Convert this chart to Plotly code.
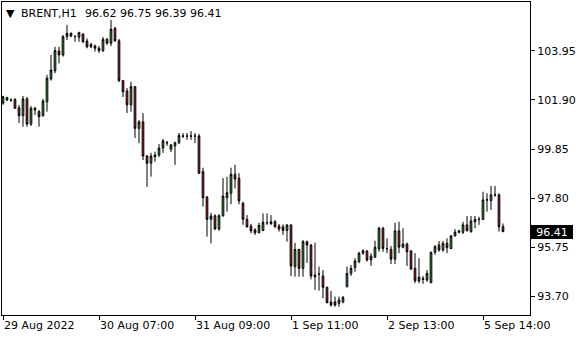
import plotly.graph_objects as go

symbol = "BRENT,H1"

opens = [101.76, 101.89, 101.89, 101.92, 101.57, 101.24, 101.94, 100.89, 101.55, 101.41,
         101.24, 101.82, 102.77, 103.11, 103.94, 103.77, 104.53, 104.67, 104.54, 104.51,
         104.64, 104.35, 104.11, 104.14, 104.05, 103.95, 104.42, 104.26, 104.88, 104.36,
         102.70, 102.27, 101.69, 102.45, 100.71, 100.98, 99.56, 99.26, 99.53, 99.60,
         99.89, 100.11, 99.84, 99.98, 100.11, 100.39, 100.39, 100.39, 100.39, 100.39,
         98.91, 97.85, 96.92, 97.07, 96.52, 97.07, 97.82, 98.01, 98.80, 98.63,
         97.59, 96.92, 96.64, 96.48, 96.36, 96.45, 96.78, 96.74, 96.82, 96.64,
         96.61, 96.46, 96.69, 94.95, 95.67, 94.88, 95.99, 95.85, 94.60, 94.64,
         94.56, 94.09, 93.48, 93.48, 93.42, 93.48, 94.11, 94.67, 94.91, 95.16,
         95.51, 95.60, 95.23, 95.34, 95.69, 96.55, 95.70, 95.67, 95.26, 96.44,
         95.76, 95.89, 95.60, 94.88, 94.35, 94.46, 94.39, 94.28, 95.55, 95.85,
         95.64, 95.92, 95.70, 96.23, 96.38, 96.38, 96.69, 96.41, 96.82, 96.92,
         96.92, 97.73, 97.70, 97.94, 97.94, 96.62]
highs = [102.07, 102.03, 101.96, 101.96, 101.69, 102.06, 102.02, 101.64, 101.61, 101.48,
         101.94, 102.94, 103.77, 104.11, 104.11, 104.60, 105.02, 104.71, 104.60, 104.74,
         104.67, 104.46, 104.28, 104.21, 104.14, 104.52, 104.48, 105.23, 104.94, 104.44,
         102.73, 102.39, 102.66, 102.48, 101.06, 101.35, 99.60, 99.69, 99.74, 100.06,
         100.27, 100.19, 100.06, 100.16, 100.52, 100.52, 100.52, 100.60, 100.52, 100.48,
         99.07, 97.89, 97.19, 97.13, 97.14, 98.64, 98.69, 99.07, 99.19, 98.84,
         97.66, 97.10, 96.73, 96.55, 96.78, 97.17, 97.17, 97.10, 96.89, 96.73,
         96.71, 96.71, 96.71, 95.94, 95.69, 96.06, 96.03, 95.89, 95.95, 94.95,
         94.81, 94.11, 93.94, 93.70, 93.70, 93.73, 94.95, 95.02, 95.30, 95.57,
         95.67, 95.64, 95.51, 96.03, 96.61, 96.61, 96.13, 95.81, 96.78, 96.82,
         96.55, 95.95, 95.64, 95.51, 95.30, 94.56, 94.81, 95.57, 95.85, 96.02,
         96.02, 96.13, 96.27, 96.51, 96.48, 96.82, 97.06, 97.06, 97.06, 97.03,
         98.07, 98.01, 98.31, 98.31, 98.01, 96.75]
lows = [101.69, 101.85, 101.82, 101.52, 100.94, 100.78, 100.78, 100.81, 101.27, 100.78,
        101.20, 101.41, 102.70, 103.01, 103.42, 103.70, 104.39, 104.51, 104.32, 104.32,
        104.26, 104.05, 104.05, 103.91, 103.85, 103.89, 104.19, 104.14, 104.31, 102.64,
        102.02, 101.35, 101.41, 100.31, 100.10, 99.39, 98.27, 98.70, 99.32, 99.52,
        99.69, 99.98, 99.73, 99.19, 100.06, 100.31, 100.23, 100.23, 100.10, 98.81,
        97.45, 96.20, 95.92, 96.48, 96.44, 97.03, 97.24, 97.55, 98.21, 97.55,
        96.69, 96.58, 96.34, 96.27, 96.34, 96.44, 96.69, 96.69, 96.57, 96.41,
        96.27, 95.99, 94.56, 94.53, 94.53, 94.53, 95.11, 94.42, 93.98, 93.95,
        93.63, 93.42, 93.28, 93.28, 93.28, 93.42, 94.09, 94.56, 94.74, 95.09,
        95.44, 95.16, 94.98, 95.32, 95.57, 95.57, 95.51, 95.06, 95.06, 95.51,
        95.71, 94.98, 94.81, 94.26, 94.26, 94.23, 94.32, 94.26, 95.44, 95.57,
        95.57, 95.51, 95.69, 96.20, 96.34, 96.31, 96.41, 96.36, 96.55, 96.69,
        96.89, 97.24, 97.31, 97.86, 96.41, 96.39]
closes = [102.03, 101.99, 101.89, 101.55, 101.24, 101.94, 100.89, 101.55, 101.48, 101.20,
          101.85, 102.80, 103.14, 103.95, 103.77, 104.53, 104.67, 104.56, 104.54, 104.70,
          104.32, 104.11, 104.21, 104.05, 103.95, 104.42, 104.26, 104.84, 104.36, 102.70,
          102.24, 101.69, 102.45, 100.71, 100.98, 99.56, 99.26, 99.56, 99.60, 99.89,
          100.19, 100.11, 100.02, 100.11, 100.42, 100.39, 100.39, 100.39, 100.39, 98.84,
          97.82, 96.92, 97.06, 96.52, 97.07, 97.89, 98.03, 98.80, 98.60, 97.69,
          96.92, 96.61, 96.44, 96.36, 96.67, 96.80, 96.78, 96.82, 96.61, 96.52,
          96.46, 96.69, 94.98, 95.67, 94.88, 95.99, 95.85, 94.56, 94.53, 94.64,
          94.09, 93.45, 93.35, 93.35, 93.56, 93.66, 94.67, 94.88, 95.19, 95.51,
          95.61, 95.23, 95.39, 95.76, 96.55, 95.71, 95.70, 95.26, 96.44, 95.76,
          95.89, 95.57, 94.85, 94.36, 94.51, 94.42, 94.67, 95.55, 95.78, 95.64,
          95.92, 95.74, 96.23, 96.39, 96.44, 96.69, 96.45, 96.85, 96.92, 96.92,
          97.73, 97.73, 97.94, 97.94, 96.61, 96.41]

tick_bars = [0, 24, 48, 72, 96, 120]
tick_labels = ["29 Aug 2022", "30 Aug 07:00", "31 Aug 09:00",
               "1 Sep 11:00", "2 Sep 13:00", "5 Sep 14:00"]
price_ticks = [93.70, 95.75, 97.80, 99.85, 101.90, 103.95]

GREEN = "#3CB43C"
RED = "#DC1E1E"

bars = list(range(len(opens)))

fig = go.Figure(go.Candlestick(
    x=bars, open=opens, high=highs, low=lows, close=closes,
    increasing=dict(fillcolor=GREEN, line=dict(color="black", width=1)),
    decreasing=dict(fillcolor=RED, line=dict(color="black", width=1)),
    whiskerwidth=0, hoverinfo="skip",
))

fig.update_layout(
    width=580, height=340,
    margin=dict(l=2, r=50, t=2, b=25),
    paper_bgcolor="white", plot_bgcolor="white",
    showlegend=False, boxgap=0.4,
    font=dict(family="DejaVu Sans", size=11, color="black"),
)
fig.update_xaxes(
    range=[-0.25, 131.75], rangeslider_visible=False,
    showgrid=False, zeroline=False,
    showline=True, mirror=True, linecolor="black", linewidth=1,
    tickmode="array", tickvals=tick_bars, ticktext=tick_labels,
    ticks="outside", ticklen=4, tickcolor="black",
    ticklabelposition="outside right",
)
fig.update_yaxes(
    side="right", range=[92.935, 105.977],
    showgrid=False, zeroline=False,
    showline=True, mirror=True, linecolor="black", linewidth=1,
    tickmode="array", tickvals=price_ticks, tickformat=".2f",
    ticks="outside", ticklen=4, tickcolor="black",
)

last = len(closes) - 1
header_vals = " ".join(f"{v:.2f}" for v in (opens[last], highs[last], lows[last], closes[last]))

fig.add_annotation(x=0, y=1, xref="paper", yref="paper", xanchor="left", yanchor="middle",
                   xshift=2.2, yshift=-11, text="▼", showarrow=False,
                   font=dict(size=11, color="black"))
fig.add_annotation(x=0, y=1, xref="paper", yref="paper", xanchor="left", yanchor="middle",
                   xshift=16.7, yshift=-11, text=symbol, showarrow=False)
fig.add_annotation(x=0, y=1, xref="paper", yref="paper", xanchor="left", yanchor="middle",
                   xshift=81, yshift=-11, text=header_vals, showarrow=False)

fig.add_annotation(x=1, y=closes[last], xref="paper", yref="y", xanchor="left", yanchor="middle",
                   xshift=1, text=f"{closes[last]:.2f}", showarrow=False,
                   bgcolor="black", font=dict(color="white"), width=40, height=12,
                   borderpad=1, borderwidth=0, align="center")

fig.write_html("out.html")
